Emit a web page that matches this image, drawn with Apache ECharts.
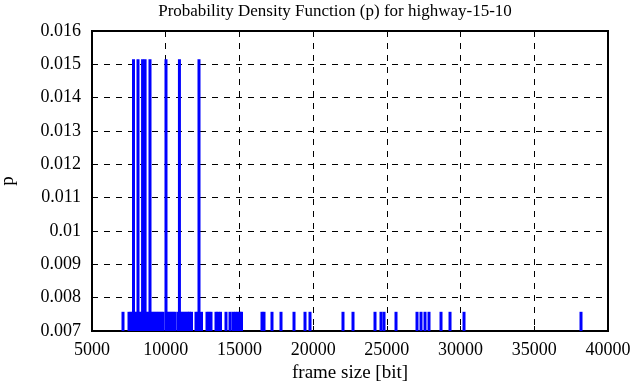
<!DOCTYPE html>
<html>
<head>
<meta charset="utf-8">
<script src="https://cdn.jsdelivr.net/npm/echarts@6/dist/echarts.min.js"></script>
<style>html,body{margin:0;padding:0;background:#fff}#c{width:636px;height:387px}</style>
</head>
<body>
<div id="c"></div>
<script>
// Probability values: single occurrence and double occurrence
var pShort = 0.007576;
var pTall = 0.01515;
// Frame sizes [bit] with the taller probability
var tallSizes = [7815, 8120, 8430, 8600, 8934, 10019, 10930, 12258];
// Frame sizes [bit] with the shorter probability
var shortSizes = [
  7103,
  7510, 7650, 7780, 7920, 8050, 8190, 8320, 8460, 8590, 8730, 8870, 9000, 9140, 9270, 9410, 9540, 9680, 9820,
  10087, 10223, 10358, 10494, 10630,
  10833, 10969, 11105, 11240, 11376, 11512,
  11613, 11749, 12054, 12190, 12427, 12800, 12936, 13072, 13411, 13547, 13716,
  14089, 14361, 14564, 14734, 14903, 15039, 15140,
  16531, 16667, 17209, 17820, 18702, 19448, 19787,
  22025, 22704, 24196, 24603, 24807, 25621,
  27045, 27317, 27588, 27859, 28673, 29284, 30233, 38169
];
var xTicks = [5000, 40000, 5000];   // min, max, interval
var yTicks = [0.007, 0.016, 0.001]; // min, max, interval

var data = [];
shortSizes.forEach(function (s) { data.push([s, pShort]); });
tallSizes.forEach(function (s) { data.push([s, pTall]); });

var font = 'Liberation Serif';
var chart = echarts.init(document.getElementById('c'), null, {renderer: 'canvas'});
chart.setOption({
  animation: false,
  backgroundColor: '#fff',
  title: {
    text: 'Probability Density Function (p) for highway-15-10',
    left: 330, top: -2, textAlign: 'center',
    textStyle: {fontFamily: font, fontSize: 17, fontWeight: 'normal', color: '#000'}
  },
  grid: {left: 92, right: 28, top: 31, bottom: 56, show: true, borderColor: '#000', borderWidth: 2,
    backgroundColor: 'transparent', containLabel: false, outerBoundsMode: 'none'},
  xAxis: {
    type: 'value', min: xTicks[0], max: xTicks[1], interval: xTicks[2],
    name: 'frame size [bit]', nameLocation: 'middle', nameGap: 29,
    nameTextStyle: {fontFamily: font, fontSize: 19, color: '#000'},
    axisLine: {show: true, lineStyle: {color: '#000', width: 2}},
    axisTick: {show: true, inside: true, length: 5, lineStyle: {color: '#000', width: 1}},
    axisLabel: {fontFamily: font, fontSize: 18, color: '#000', margin: 10, formatter: function (v) { return String(v); }},
    splitLine: {show: true, lineStyle: {color: '#000', type: [6, 6], width: 1}}
  },
  yAxis: {
    type: 'value', min: yTicks[0], max: yTicks[1], interval: yTicks[2],
    name: 'p', nameLocation: 'middle', nameGap: 74, nameRotate: 90,
    nameTextStyle: {fontFamily: font, fontSize: 19, color: '#000'},
    axisLine: {show: true, lineStyle: {color: '#000', width: 2}},
    axisTick: {show: true, inside: true, length: 5, lineStyle: {color: '#000', width: 1}},
    axisLabel: {fontFamily: font, fontSize: 18, color: '#000', margin: 11,
      formatter: function (v) { return String(parseFloat(v.toFixed(3))); }},
    splitLine: {show: true, lineStyle: {color: '#000', type: [6, 6], width: 1}}
  },
  series: [{
    type: 'bar',
    data: data,
    barWidth: 3,
    itemStyle: {color: '#0000ff'},
    clip: true,
    z: 3
  }]
});
</script>
</body>
</html>
